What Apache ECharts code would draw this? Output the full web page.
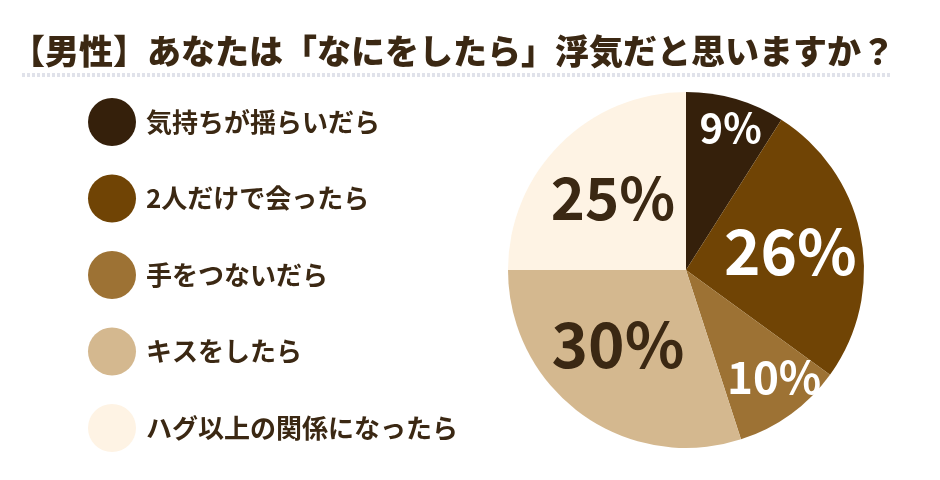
<!DOCTYPE html>
<html>
<head>
<meta charset="utf-8">
<script src="https://cdn.jsdelivr.net/npm/echarts@6/dist/echarts.min.js"></script>
<style>
  html, body { margin: 0; padding: 0; background: #ffffff; }
  #chart { width: 940px; height: 480px; }
</style>
</head>
<body>
<div id="chart"></div>
<script>
// Survey answers (men): what counts as cheating
var categories = ['気持ちが揺らいだら', '2人だけで会ったら', '手をつないだら', 'キスをしたら', 'ハグ以上の関係になったら'];
var shares = [9, 26, 10, 30, 25];

// Slice appearance, one entry per category
var sliceColors = ['#35200b', '#704405', '#9d7234', '#d4b88f', '#fef3e4'];
var labelColors = ['#ffffff', '#ffffff', '#ffffff', '#3b2813', '#3b2813'];
var labelSizes = [40, 62, 44, 62, 58];
var labelOffsets = [[19, -54], [14, -1], [34, 33], [-14, 0], [-8, -7]];

var FONT = '"Noto Sans CJK JP", "Noto Sans", sans-serif';
var TEXT = '#3b2813';

var chart = echarts.init(document.getElementById('chart'), null, { renderer: 'canvas' });

var pieData = categories.map(function (name, i) {
  return {
    name: name,
    value: shares[i],
    itemStyle: { color: sliceColors[i] },
    label: {
      color: labelColors[i],
      fontSize: labelSizes[i],
      offset: labelOffsets[i]
    }
  };
});

chart.setOption({
  backgroundColor: '#ffffff',
  animation: false,
  title: {
    text: '【男性】あなたは「なにをしたら」浮気だと思いますか？',
    left: 6,
    top: 29,
    textStyle: { fontFamily: FONT, fontSize: 34, fontWeight: 900, color: TEXT }
  },
  legend: {
    orient: 'vertical',
    left: 83,
    top: 93,
    icon: 'circle',
    itemWidth: 48,
    itemHeight: 48,
    itemGap: 28.5,
    selectedMode: false,
    data: categories,
    textStyle: {
      fontFamily: FONT,
      fontSize: 26,
      fontWeight: 'bold',
      color: TEXT,
      padding: [0, 0, 0, 5]
    }
  },
  graphic: [{
    type: 'line',
    shape: { x1: 22, y1: 75, x2: 890, y2: 75 },
    style: { stroke: '#e0e2ea', lineWidth: 4, lineDash: [3, 2] },
    silent: true
  }],
  series: [{
    type: 'pie',
    center: [686, 270],
    radius: [0, 178],
    startAngle: 90,
    clockwise: true,
    silent: true,
    itemStyle: { borderWidth: 0 },
    label: {
      show: true,
      position: 'inside',
      formatter: '{c}%',
      fontFamily: FONT,
      fontWeight: 'bold'
    },
    labelLine: { show: false },
    data: pieData
  }]
});
</script>
</body>
</html>
